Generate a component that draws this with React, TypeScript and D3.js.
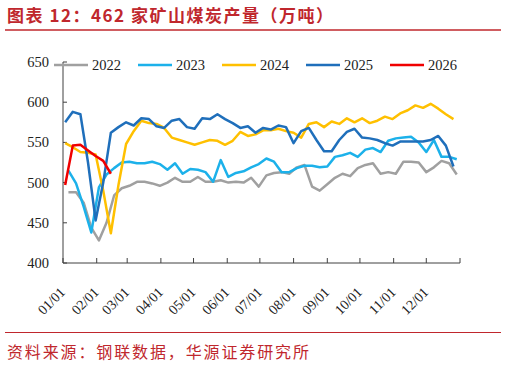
import { useEffect, useRef } from "react";
import * as d3 from "d3";

// weekly output, 462 mines (10k t)
const years = ["2022", "2023", "2024", "2025", "2026"];
const colors = ["#a0a0a0", "#1cb1ea", "#ffc000", "#1f6fbb", "#f00000"];
// first week of each series (day of month in Jan)
const startDay = [6, 6, 3, 3, 3];

const v2022 = [488, 488, 475, 444, 428, 450, 484, 493, 496, 501, 501, 499, 496, 500, 506, 501, 501, 507, 501, 501, 503, 500, 501, 500, 506, 495, 509, 512, 513, 511, 519, 522, 495, 490, 498, 506, 511, 508, 518, 522, 524, 511, 513, 511, 526, 526, 525, 513, 519, 527, 524, 510];
const v2023 = [515, 499, 470, 438, 494, 510, 518, 525, 526, 524, 524, 526, 523, 516, 524, 511, 517, 516, 513, 501, 528, 507, 512, 514, 519, 523, 530, 526, 513, 513, 518, 521, 521, 519, 520, 532, 534, 537, 532, 541, 543, 538, 552, 555, 556, 557, 550, 538, 553, 532, 532, 529];
const v2024 = [549, 544, 538, 537, 535, 490, 437, 497, 548, 564, 577, 574, 573, 568, 556, 553, 550, 547, 550, 553, 552, 547, 552, 563, 558, 560, 565, 565, 567, 564, 562, 556, 573, 575, 569, 576, 573, 580, 575, 580, 574, 577, 582, 579, 586, 590, 596, 593, 598, 592, 585, 579];
const v2025 = [575, 588, 585, 525, 453, 500, 562, 569, 575, 571, 580, 579, 570, 568, 577, 579, 569, 567, 580, 579, 585, 579, 574, 568, 570, 562, 568, 566, 571, 569, 549, 564, 568, 553, 539, 539, 553, 563, 567, 556, 555, 553, 549, 546, 551, 551, 551, 551, 553, 558, 546, 520];
const v2026 = [497, 546, 547, 540, 533, 527, 511];

const yTicks = [400, 450, 500, 550, 600, 650];

const title = "图表 12：462 家矿山煤炭产量（万吨）";
const source = "资料来源：钢联数据，华源证券研究所";

const W = 506;
const H = 366;
const red = "#c0272d";

const App = () => {
  const svgRef = useRef<SVGSVGElement>(null);

  useEffect(() => {
    const svg = d3.select(svgRef.current);
    svg.selectAll("*").remove();

    // setup scaling (common non-leap year for all series)
    const x = d3
      .scaleTime()
      .domain([new Date(2025, 0, 1), new Date(2026, 0, 1)])
      .range([63, 460]);
    const y = d3.scaleLinear().domain([400, 650]).range([263, 62]);

    // title + rules
    svg
      .append("text")
      .attr("x", 7)
      .attr("y", 22)
      .attr("textLength", 326)
      .attr("lengthAdjust", "spacing")
      .style("font-family", "'Noto Sans CJK SC'")
      .style("font-weight", "bold")
      .style("font-size", "17px")
      .attr("fill", red)
      .text(title);
    svg.append("line").attr("x1", 5).attr("x2", 501).attr("y1", 30).attr("y2", 30).attr("stroke", red).attr("stroke-width", 1.6);
    svg.append("line").attr("x1", 5).attr("x2", 501).attr("y1", 332.5).attr("y2", 332.5).attr("stroke", red).attr("stroke-width", 1);
    svg
      .append("text")
      .attr("x", 7)
      .attr("y", 358)
      .attr("textLength", 302)
      .attr("lengthAdjust", "spacing")
      .style("font-family", "'Noto Sans CJK SC'")
      .style("font-size", "16px")
      .attr("fill", red)
      .text(source);

    // axes
    const axisColor = "#404040";
    const serif = "'Liberation Serif', 'Times New Roman', serif";
    svg.append("line").attr("x1", 63).attr("x2", 63).attr("y1", y(650)).attr("y2", y(400)).attr("stroke", axisColor);
    svg.append("line").attr("x1", 63).attr("x2", 460).attr("y1", y(400)).attr("y2", y(400)).attr("stroke", axisColor);

    const yg = svg.append("g");
    yTicks.forEach((t) => {
      yg.append("line").attr("x1", 63).attr("x2", 67).attr("y1", y(t)).attr("y2", y(t)).attr("stroke", axisColor);
      yg
        .append("text")
        .attr("x", 49)
        .attr("y", y(t) + 5)
        .attr("text-anchor", "end")
        .style("font-family", serif)
        .style("font-size", "14.5px")
        .attr("fill", "#222")
        .text(t);
    });

    const months = x.ticks(d3.timeMonth.every(1)!);
    const fmt = d3.timeFormat("%m/%d");
    const xg = svg.append("g");
    months.forEach((m, i) => {
      xg.append("line").attr("x1", x(m)).attr("x2", x(m)).attr("y1", y(400)).attr("y2", y(400) - 5).attr("stroke", axisColor);
      if (i === months.length - 1) return;
      xg
        .append("text")
        .attr("transform", `translate(${x(m) + 3},${y(400) + 30}) rotate(-45)`)
        .attr("text-anchor", "end")
        .style("font-family", serif)
        .style("font-size", "14px")
        .attr("fill", "#222")
        .text(fmt(m));
    });

    // series
    const all = [v2022, v2023, v2024, v2025, v2026];
    const line = d3
      .line<[Date, number]>()
      .x((d) => x(d[0]))
      .y((d) => y(d[1]));
    all.forEach((vals, k) => {
      const pts: [Date, number][] = vals.map((v, i) => [new Date(2025, 0, startDay[k] + 7 * i), v]);
      svg
        .append("path")
        .attr("d", line(pts))
        .attr("fill", "none")
        .attr("stroke", colors[k])
        .attr("stroke-width", 2.5)
        .attr("stroke-linejoin", "round");
    });

    // legend
    const lg = svg.append("g");
    years.forEach((yr, k) => {
      const x0 = 54 + 84 * k;
      lg.append("line").attr("x1", x0).attr("x2", x0 + 34).attr("y1", 65).attr("y2", 65).attr("stroke", colors[k]).attr("stroke-width", 2.5);
      lg
        .append("text")
        .attr("x", x0 + 38)
        .attr("y", 70)
        .style("font-family", serif)
        .style("font-size", "14.5px")
        .attr("fill", "#222")
        .text(yr);
    });
  }, []);

  return (
    <svg
      ref={svgRef}
      width={W}
      height={H}
      style={{ position: "absolute", left: 0, top: 0, background: "#fff" }}
    />
  );
};

export default App;
